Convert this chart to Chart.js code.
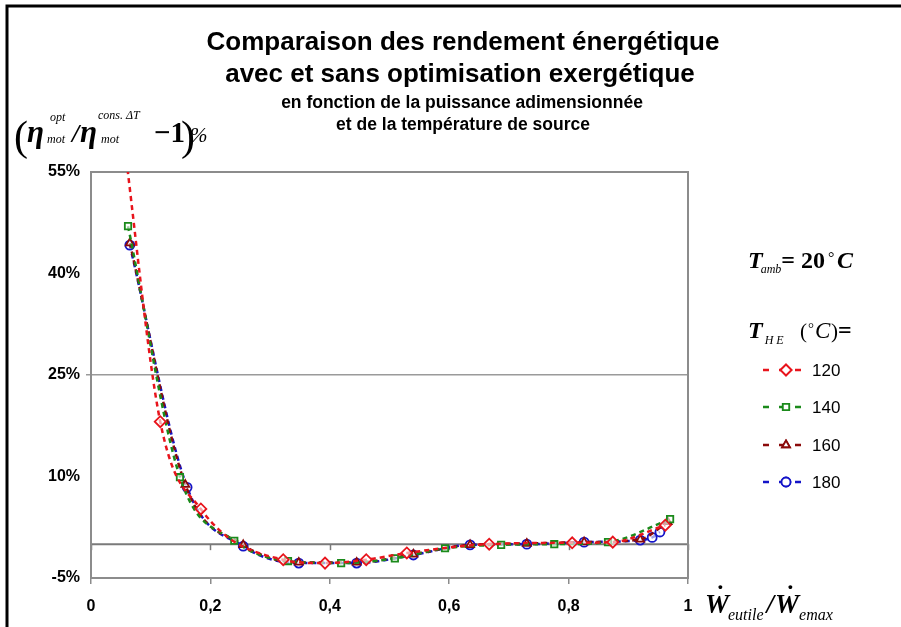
<!DOCTYPE html>
<html>
<head>
<meta charset="utf-8">
<script src="https://cdn.jsdelivr.net/npm/chart.js@4.4.0/dist/chart.umd.min.js"></script>
<style>
  html, body { margin: 0; padding: 0; background: #fff; }
  #wrap { width: 901px; height: 627px; position: relative; }
</style>
</head>
<body>
<div id="wrap"><canvas id="myChart" width="901" height="627"></canvas></div>
<script>
// x = puissance adimensionnée, y = écart de rendement (%)
const seriesLabels = ['120', '140', '160', '180']
const x120 = [0.052, 0.116, 0.184, 0.322, 0.392, 0.461, 0.529, 0.667, 0.806, 0.874, 0.962]
const y120 = [62, 18.1, 5.2, -2.3, -2.8, -2.3, -1.3, 0.0, 0.2, 0.3, 2.8]
const x140 = [0.062, 0.149, 0.240, 0.330, 0.419, 0.509, 0.593, 0.687, 0.776, 0.866, 0.970]
const y140 = [47.0, 9.9, 0.5, -2.5, -2.8, -2.1, -0.6, -0.1, 0.0, 0.3, 3.7]
const x160 = [0.065, 0.158, 0.255, 0.348, 0.445, 0.540, 0.635, 0.730, 0.826, 0.920, 0.966]
const y160 = [44.5, 8.8, -0.1, -2.7, -2.7, -1.5, -0.1, 0.1, 0.3, 0.7, 3.3]
const x180 = [0.065, 0.161, 0.255, 0.348, 0.445, 0.540, 0.635, 0.730, 0.826, 0.920, 0.940, 0.953]
const y180 = [44.2, 8.4, -0.3, -2.8, -2.8, -1.6, -0.1, 0.0, 0.3, 0.6, 1.0, 1.8]
const yTicks = [-5, 10, 25, 40, 55]
const xTicks = [0, 0.2, 0.4, 0.6, 0.8, 1]

const colors = ['#e8141c', '#1b8a1b', '#8b0a0a', '#1414c8']
const markers = ['rectRot', 'rect', 'triangle', 'circle']
const xs = [x120, x140, x160, x180]
const ys = [y120, y140, y160, y180]

const pts = (a, b) => a.map((v, i) => ({ x: v, y: b[i] }))

const datasets = seriesLabels.map((lab, i) => ({
  label: lab,
  data: pts(xs[i], ys[i]),
  showLine: true,
  borderColor: colors[i],
  borderWidth: 2.5,
  borderDash: [5, 4],
  cubicInterpolationMode: 'monotone',
  pointStyle: markers[i],
  pointRadius: markers[i] === 'rectRot' ? 5.5 : 4.5,
  pointBorderWidth: 1.8,
  pointBorderColor: colors[i],
  pointBackgroundColor: 'rgba(255,255,255,0.6)',
  clip: 0
}))

const serif = '"Liberation Serif", "Times New Roman", serif'
const sans = '"Liberation Sans", Arial, sans-serif'

function txt(c, s, x, y, font, align) {
  c.font = font
  c.textAlign = align || 'left'
  c.fillText(s, x, y)
  return x + c.measureText(s).width
}

const decor = {
  id: 'decor',
  beforeDatasetsDraw(chart) {
    const c = chart.ctx
    const a = chart.chartArea
    const xs_ = chart.scales.x
    const y0 = chart.scales.y.getPixelForValue(0)
    c.save()
    // zero line
    c.strokeStyle = '#7a7a7a'
    c.lineWidth = 2
    c.beginPath()
    c.moveTo(a.left, y0)
    c.lineTo(a.right, y0)
    c.stroke()
    c.lineWidth = 1.5
    for (const t of xTicks) {
      const px = Math.round(xs_.getPixelForValue(t)) + 0.5
      c.beginPath()
      c.moveTo(px, y0)
      c.lineTo(px, y0 + 6)
      c.stroke()
    }
    // plot frame
    c.strokeStyle = '#8c8c8c'
    c.lineWidth = 2
    c.strokeRect(a.left, a.top, a.right - a.left, a.bottom - a.top)
    c.restore()
  },
  afterDraw(chart) {
    const c = chart.ctx
    c.save()
    // outer frame
    c.strokeStyle = '#000'
    c.lineWidth = 3
    c.beginPath()
    c.moveTo(7, 640)
    c.lineTo(7, 6)
    c.lineTo(905, 6)
    c.stroke()

    // titles
    c.fillStyle = '#000'
    c.textBaseline = 'alphabetic'
    txt(c, 'Comparaison des rendement énergétique', 463, 50, 'bold 26px ' + sans, 'center')
    txt(c, 'avec et sans optimisation exergétique', 460, 82, 'bold 26px ' + sans, 'center')
    txt(c, 'en fonction de la puissance adimensionnée', 462, 108, 'bold 17.5px ' + sans, 'center')
    txt(c, 'et de la température de source', 463, 130, 'bold 17.5px ' + sans, 'center')

    // y axis title
    txt(c, '(', 14, 150, '42px ' + serif)
    txt(c, 'η', 27, 142, 'bold italic 31px ' + serif)
    txt(c, 'opt', 50, 121, 'italic 12px ' + serif)
    txt(c, 'mot', 47, 143, 'italic 12px ' + serif)
    txt(c, '/', 72, 142, 'bold italic 26px ' + serif)
    txt(c, 'η', 80, 142, 'bold italic 31px ' + serif)
    txt(c, 'cons. ΔT', 98, 119, 'italic 12px ' + serif)
    txt(c, 'mot', 101, 143, 'italic 12px ' + serif)
    txt(c, '−1', 154, 142, 'bold 29px ' + serif)
    txt(c, ')', 181, 150, '42px ' + serif)
    txt(c, '%', 190, 142, 'italic 21px ' + serif)

    // x axis title
    let x = txt(c, 'W', 705, 613, 'bold italic 27px ' + serif)
    txt(c, '˙', 716, 603, 'bold 26px ' + serif)
    x = txt(c, 'eutile', x - 1, 620, 'italic 16px ' + serif)
    x = txt(c, '/', x + 3, 613, 'bold italic 27px ' + serif)
    const wx = x
    x = txt(c, 'W', x + 1, 613, 'bold italic 27px ' + serif)
    txt(c, '˙', wx + 12, 603, 'bold 26px ' + serif)
    txt(c, 'emax', x, 620, 'italic 16px ' + serif)

    // T_amb
    x = txt(c, 'T', 748, 268, 'bold italic 24px ' + serif)
    x = txt(c, 'amb', x - 2, 273, 'italic 12px ' + serif)
    x = txt(c, '= 20', x, 268, 'bold 24px ' + serif)
    txt(c, '°', x + 3, 263, '16px ' + serif)
    txt(c, 'C', x + 12, 268, 'bold italic 24px ' + serif)

    // T_HE
    x = txt(c, 'T', 748, 338, 'bold italic 24px ' + serif)
    txt(c, 'H E', x + 2, 344, 'italic 12px ' + serif)
    txt(c, '(', 800, 338, '21px ' + serif)
    txt(c, '°', 808, 333, '15px ' + serif)
    txt(c, 'C', 815, 338, 'italic 23px ' + serif)
    txt(c, ')', 831, 338, '21px ' + serif)
    txt(c, '=', 838, 338, 'bold 24px ' + serif)

    // legend entries
    const ly = [370, 407, 445, 482]
    chart.data.datasets.forEach((ds, i) => {
      const yy = ly[i]
      c.strokeStyle = ds.borderColor
      c.lineWidth = 2.5
      c.setLineDash([6, 10])
      c.beginPath()
      c.moveTo(763, yy)
      c.lineTo(801, yy)
      c.stroke()
      c.setLineDash([])
      c.lineWidth = 1.8
      Chart.helpers.drawPoint(c, {
        pointStyle: ds.pointStyle, radius: ds.pointRadius, borderWidth: 1.8, rotation: 0
      }, 786, yy)
      c.fillStyle = '#fff'
      c.fill()
      c.stroke()
      c.fillStyle = '#000'
      c.textBaseline = 'middle'
      txt(c, ds.label, 812, yy + 1, '17px ' + sans)
      c.textBaseline = 'alphabetic'
    })
    c.restore()
  }
}

const ctx = document.getElementById('myChart')
const myChart = new Chart(ctx, {
  type: 'scatter',
  data: { datasets },
  options: {
    responsive: false,
    animation: false,
    devicePixelRatio: 1,
    layout: { padding: { left: 0, top: 172, right: 213, bottom: 0 } },
    plugins: { legend: { display: false }, tooltip: { enabled: false } },
    scales: {
      x: {
        type: 'linear',
        min: 0,
        max: 1,
        afterFit: s => { s.height = 49 },
        afterBuildTicks: s => { s.ticks = xTicks.map(v => ({ value: v })) },
        border: { display: false },
        grid: { drawOnChartArea: false, tickLength: 6, color: '#8c8c8c', lineWidth: 1.5 },
        ticks: {
          padding: 13,
          color: '#000',
          font: { family: sans, size: 16, weight: 'bold' },
          callback: v => v === 0 ? '0' : v === 1 ? '1' : v.toFixed(1).replace('.', ',')
        }
      },
      y: {
        min: -5,
        max: 55,
        afterFit: s => { s.width = 91 },
        afterBuildTicks: s => { s.ticks = yTicks.map(v => ({ value: v })) },
        border: { display: false },
        grid: {
          tickLength: 5,
          lineWidth: 1.5,
          color: c => c.tick && c.tick.value === 25 ? '#9a9a9a' : 'rgba(0,0,0,0)'
        },
        ticks: {
          padding: 6,
          color: '#000',
          font: { family: sans, size: 16, weight: 'bold' },
          callback: v => v + '%'
        }
      }
    }
  },
  plugins: [decor]
})
</script>
</body>
</html>
